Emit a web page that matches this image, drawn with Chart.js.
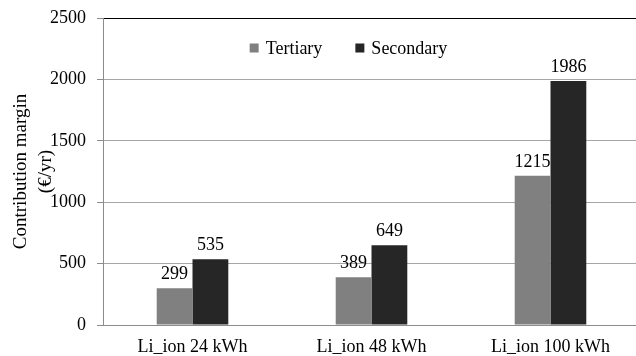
<!DOCTYPE html>
<html>
<head>
<meta charset="utf-8">
<script src="https://cdn.jsdelivr.net/npm/chart.js@4"></script>
<style>
  html, body { margin: 0; padding: 0; background: #fff; overflow: hidden; }
  #wrap { width: 640px; height: 356px; }
</style>
</head>
<body>
<div id="wrap"><canvas id="chart"></canvas></div>
<script>
const categories = ["Li_ion 24 kWh", "Li_ion 48 kWh", "Li_ion 100 kWh"];
const tertiary = [299, 389, 1215];
const secondary = [535, 649, 1986];
const yTicks = [0, 500, 1000, 1500, 2000, 2500];

const FONT = "'Liberation Serif', 'Times New Roman', serif";
const FONT_SIZE = 18;

// value labels above each bar
const barLabels = {
    id: "barLabels",
    afterDatasetsDraw(chart) {
        const ctx = chart.ctx;
        ctx.save();
        ctx.font = FONT_SIZE + "px " + FONT;
        ctx.fillStyle = "#000";
        ctx.textAlign = "center";
        ctx.textBaseline = "alphabetic";
        chart.data.datasets.forEach((ds, i) => {
            chart.getDatasetMeta(i).data.forEach((bar, j) => {
                ctx.fillText(String(ds.data[j]), bar.x, bar.y - 9);
            });
        });
        ctx.restore();
    }
};

// legend sitting inside the plot, a little left of centre
const plotLegend = {
    id: "plotLegend",
    afterDraw(chart) {
        const ctx = chart.ctx;
        const area = chart.chartArea;
        const box = 9, gapText = 7, gapItem = 33;
        ctx.save();
        ctx.font = FONT_SIZE + "px " + FONT;
        const items = chart.data.datasets.map(ds => ({
            label: ds.label,
            color: ds.backgroundColor,
            w: box + gapText + ctx.measureText(ds.label).width
        }));
        const total = items.reduce((s, it) => s + it.w, 0) + gapItem * (items.length - 1);
        let x = (area.left + area.right) / 2 - 23 - total / 2;
        const y = area.top + 31;
        ctx.textBaseline = "middle";
        ctx.textAlign = "left";
        items.forEach(it => {
            ctx.fillStyle = it.color;
            ctx.fillRect(x, y - box / 2 - 1, box, box);
            ctx.fillStyle = "#000";
            ctx.fillText(it.label, x + box + gapText, y);
            x += it.w + gapItem;
        });
        ctx.restore();
    }
};

new Chart(document.getElementById("chart"), {
    type: "bar",
    data: {
        labels: categories,
        datasets: [
            { label: "Tertiary", data: tertiary, backgroundColor: "#808080" },
            { label: "Secondary", data: secondary, backgroundColor: "#262626" }
        ]
    },
    options: {
        responsive: true,
        maintainAspectRatio: false,
        animation: false,
        layout: { padding: { top: 18, right: 0, left: 0, bottom: 0 } },
        datasets: { bar: { barPercentage: 1, categoryPercentage: 0.4 } },
        plugins: {
            tooltip: { enabled: false },
            legend: { display: false }
        },
        scales: {
            x: {
                grid: { display: false, drawTicks: false },
                border: { display: true, color: "#8c8c8c" },
                ticks: { color: "#000", padding: 11, font: { family: FONT, size: FONT_SIZE } },
                afterFit(scale) { scale.height = 31; }
            },
            y: {
                min: 0,
                max: 2500,
                afterBuildTicks(scale) { scale.ticks = yTicks.map(v => ({ value: v })); },
                grid: {
                    color: c => c.tick && c.tick.value === 2500 ? "#000" : "#a6a6a6",
                    tickColor: "#8c8c8c",
                    tickLength: 6
                },
                border: { display: true, color: "#8c8c8c" },
                ticks: {
                    color: "#000",
                    padding: 11,
                    font: { family: FONT, size: FONT_SIZE },
                    callback: v => String(v)
                },
                title: {
                    display: true,
                    text: ["Contribution margin", "(€/yr)"],
                    color: "#000",
                    font: { family: FONT, size: 19, lineHeight: 1.3 },
                    padding: { top: 9, bottom: 0 }
                },
                afterFit(scale) {
                    scale.width = 103;
                    scale.paddingTop = 0;
                    scale.paddingBottom = 0;
                }
            }
        }
    },
    plugins: [barLabels, plotLegend]
});
</script>
</body>
</html>
